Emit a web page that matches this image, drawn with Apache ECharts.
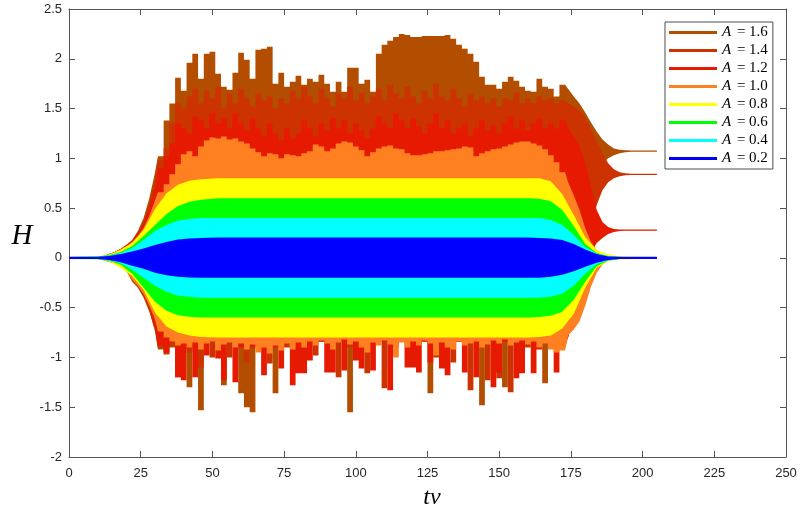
<!DOCTYPE html>
<html><head><meta charset="utf-8">
<script src="https://cdn.jsdelivr.net/npm/echarts/dist/echarts.min.js"></script>
<style>html,body{margin:0;padding:0;background:#fff}#c{width:800px;height:513px}</style>
</head><body><div id="c"></div>
<script>
// ---- sample times ----
const T_SMOOTH = [0, 10, 14, 18, 22, 26, 30, 34, 38, 42, 46, 52, 160, 164, 168, 172, 176, 180, 184, 188, 192, 198, 205];
const T_SPIKY = [12,14,16,18,20,22,24,26,28,30, 32,34,36,38,40,42,44,46,48,50, 52,54,56,58,60,62,64,66,68,70,
  72,74,76,78,80,82,84,86,88,90, 92,94,96,98,100,102,104,106,108,110, 112,114,116,118,120,122,124,126,128,130,
  132,134,136,138,140,142,144,146,148,150, 152,154,156,158,160,162,164,166,168,170, 172,174,176,178,180,182,184,186,188,190,
  192,194,196,198,200,202,204];

// ---- envelopes of H (upper / lower) ----
const A02_hi = [0.012,0.012,0.02,0.04,0.065,0.095,0.13,0.16,0.185,0.195,0.2,0.205, 0.205,0.2,0.195,0.18,0.14,0.085,0.04,0.015,0.012,0.012,0.012];
const A02_lo = [-0.012,-0.012,-0.02,-0.045,-0.08,-0.11,-0.15,-0.175,-0.19,-0.197,-0.2,-0.2, -0.2,-0.2,-0.19,-0.17,-0.135,-0.09,-0.05,-0.02,-0.012,-0.012,-0.012];
const A04_hi = [0.01,0.012,0.025,0.05,0.1,0.18,0.27,0.33,0.375,0.39,0.4,0.4, 0.4,0.4,0.38,0.33,0.23,0.11,0.045,0.02,0.01,0.01,0.01];
const A04_lo = [-0.01,-0.012,-0.025,-0.055,-0.12,-0.2,-0.28,-0.34,-0.38,-0.39,-0.4,-0.4, -0.4,-0.4,-0.39,-0.36,-0.28,-0.16,-0.065,-0.025,-0.01,-0.01,-0.01];
const A06_hi = [0.01,0.013,0.03,0.06,0.12,0.22,0.33,0.44,0.52,0.565,0.585,0.6, 0.6,0.595,0.57,0.48,0.32,0.14,0.05,0.02,0.01,0.01,0.01];
const A06_lo = [-0.01,-0.013,-0.03,-0.07,-0.16,-0.3,-0.44,-0.53,-0.575,-0.59,-0.6,-0.6, -0.6,-0.595,-0.58,-0.54,-0.42,-0.24,-0.085,-0.025,-0.01,-0.01,-0.01];
const A08_hi = [0.01,0.014,0.035,0.08,0.15,0.28,0.49,0.65,0.735,0.775,0.79,0.8, 0.8,0.8,0.77,0.64,0.43,0.21,0.08,0.035,0.015,0.01,0.01];
const A08_lo = [-0.01,-0.014,-0.04,-0.1,-0.18,-0.32,-0.55,-0.69,-0.75,-0.78,-0.795,-0.8, -0.8,-0.795,-0.78,-0.71,-0.56,-0.3,-0.1,-0.035,-0.015,-0.01,-0.01];

const A10_hi = [0.02,0.04,0.06,0.09,0.12,0.16,0.22,0.3,0.42,0.58,
  0.66,0.74,0.84,0.94,1.04,1.07,1.02,1.12,1.18,1.21,
  1.2,1.22,1.19,1.2,1.17,1.15,1.1,1.06,1.02,1.05,
  1.04,1.0,1.04,1.03,1.02,1.05,1.07,1.14,1.12,1.07,
  1.1,1.15,1.17,1.16,1.12,1.08,1.02,1.06,1.1,1.12,
  1.13,1.1,1.09,1.05,1.03,1.03,1.04,1.05,1.07,1.07,
  1.08,1.09,1.1,1.12,1.11,1.02,1.05,1.07,1.09,1.1,
  1.12,1.14,1.16,1.17,1.17,1.15,1.13,1.09,1.03,0.96,
  0.86,0.76,0.63,0.48,0.3,0.16,0.08,0.04,0.02,0.015,
  0.012,0.01,0.01,0.01,0.01,0.01,0.01];
const A10_lo = [-0.02,-0.04,-0.06,-0.09,-0.13,-0.22,-0.28,-0.36,-0.48,-0.62,
  -0.74,-0.8,-0.84,-0.88,-0.86,-0.9,-0.85,-0.92,-0.86,-0.84,
  -0.93,-0.87,-0.85,-0.9,-0.86,-0.92,-0.87,-0.95,-0.9,-0.96,
  -0.88,-0.93,-0.86,-0.92,-0.85,-0.9,-0.84,-0.88,-0.83,-0.86,
  -0.92,-0.85,-0.82,-0.87,-0.84,-0.9,-0.95,-0.85,-0.88,-0.83,
  -0.87,-1.0,-0.85,-0.9,-0.84,-0.88,-0.83,-0.86,-0.98,-0.85,
  -0.9,-0.92,-0.84,-0.88,-0.86,-0.84,-0.9,-0.87,-0.83,-0.86,
  -0.82,-0.88,-0.85,-0.83,-0.87,-0.84,-0.9,-0.86,-0.92,-0.95,
  -0.93,-0.78,-0.72,-0.64,-0.48,-0.29,-0.15,-0.07,-0.03,-0.015,
  -0.012,-0.01,-0.01,-0.01,-0.01,-0.01,-0.01];

const A12_hi = [0.02,0.04,0.06,0.09,0.13,0.17,0.24,0.34,0.5,0.7,
  0.9,1.02,1.15,1.35,1.3,1.25,1.42,1.38,1.3,1.45,
  1.35,1.4,1.3,1.45,1.35,1.28,1.4,1.3,1.22,1.35,
  1.25,1.18,1.3,1.2,1.25,1.38,1.3,1.22,1.35,1.28,
  1.4,1.3,1.38,1.25,1.35,1.28,1.2,1.3,1.42,1.35,
  1.3,1.45,1.38,1.3,1.4,1.32,1.25,1.35,1.45,1.3,
  1.38,1.25,1.3,1.35,1.22,1.3,1.38,1.28,1.33,1.25,
  1.35,1.42,1.3,1.38,1.28,1.35,1.4,1.3,1.35,1.3,
  1.38,1.3,1.22,1.12,0.95,0.72,0.48,0.36,0.31,0.29,
  0.285,0.285,0.285,0.285,0.285,0.285,0.285];
const A12_lo = [-0.02,-0.04,-0.06,-0.09,-0.13,-0.2,-0.26,-0.36,-0.5,-0.7,
  -0.88,-0.95,-0.85,-1.2,-1.23,-0.9,-1.2,-0.84,-0.98,-0.84,
  -1.01,-1.23,-0.84,-1.25,-0.9,-0.84,-0.9,-0.84,-1.18,-0.84,
  -0.9,-1.11,-0.84,-1.28,-1.16,-1.16,-1.03,-0.84,-0.84,-1.15,
  -1.15,-0.84,-1.13,-0.84,-1.03,-1.11,-0.84,-1.13,-0.84,-0.84,
  -1.33,-0.84,-0.84,-1.1,-1.1,-1.15,-0.84,-1.05,-0.84,-1.11,
  -1.18,-0.84,-0.84,-1.15,-0.84,-1.2,-0.84,-0.84,-1.3,-1.15,
  -0.84,-0.84,-1.21,-1.16,-0.84,-1.16,-0.92,-0.84,-0.84,-1.15,
  -0.84,-0.8,-0.6,-0.45,-0.2,0.05,0.15,0.2,0.24,0.26,
  0.27,0.272,0.272,0.272,0.272,0.272,0.272];

const A14_hi = [0.02,0.04,0.06,0.09,0.13,0.17,0.25,0.37,0.56,0.78,
  0.98,1.1,1.35,1.55,1.5,1.62,1.7,1.55,1.68,1.6,
  1.72,1.5,1.65,1.55,1.7,1.6,1.52,1.65,1.58,1.62,
  1.5,1.6,1.55,1.68,1.6,1.72,1.62,1.55,1.7,1.6,
  1.52,1.65,1.6,1.72,1.58,1.66,1.55,1.62,1.7,1.58,
  1.74,1.65,1.6,1.72,1.62,1.55,1.68,1.6,1.75,1.62,
  1.58,1.7,1.6,1.52,1.65,1.58,1.62,1.55,1.6,1.52,
  1.6,1.58,1.66,1.55,1.6,1.55,1.62,1.58,1.6,1.55,
  1.58,1.55,1.52,1.48,1.4,1.29,1.17,1.05,0.95,0.89,
  0.86,0.85,0.845,0.845,0.845,0.845,0.845];
const A14_lo = [-0.02,-0.04,-0.06,-0.09,-0.13,-0.21,-0.28,-0.38,-0.52,-0.72,
  -0.9,-0.96,-0.88,-0.84,-0.9,-0.95,-0.84,-1.1,-0.84,-1.0,
  -0.84,-0.84,-1.0,-0.84,-0.84,-1.05,-0.84,-0.9,-0.84,-1.06,
  -0.84,-0.84,-0.9,-0.84,-0.84,-0.9,-0.84,-0.98,-0.84,-0.84,
  -0.84,-1.2,-0.84,-0.9,-0.84,-0.84,-1.16,-0.84,-0.84,-1.31,
  -0.84,-0.9,-0.84,-0.84,-0.9,-0.84,-0.84,-0.84,-1.0,-0.84,
  -0.84,-1.05,-0.84,-0.84,-1.33,-0.84,-0.84,-1.23,-0.84,-1.21,
  -0.84,-1.35,-0.84,-0.84,-0.9,-0.84,-0.84,-0.84,-0.9,-0.84,
  -0.9,-0.8,-0.6,-0.4,-0.1,0.3,0.53,0.68,0.76,0.8,
  0.82,0.83,0.832,0.832,0.832,0.832,0.832];

const A16_hi = [0.02,0.04,0.06,0.09,0.13,0.18,0.27,0.4,0.6,0.86,
  1.02,1.38,1.55,1.81,1.68,1.96,2.05,1.8,2.05,2.07,
  1.85,1.72,1.69,1.86,2.06,1.99,1.8,2.09,2.1,2.12,
  1.75,1.86,1.72,1.77,1.83,1.74,1.8,1.77,1.84,1.75,
  1.67,1.77,1.67,1.91,1.91,1.75,1.79,1.67,2.05,2.14,
  2.18,2.22,2.25,2.24,2.22,2.22,2.23,2.23,2.23,2.23,
  2.24,2.2,2.14,2.1,2.05,1.97,1.82,1.74,1.74,1.7,
  1.77,1.82,1.78,1.72,1.68,1.67,1.8,1.72,1.7,1.62,
  1.74,1.7,1.62,1.55,1.46,1.36,1.27,1.19,1.14,1.1,
  1.085,1.08,1.078,1.078,1.078,1.078,1.078];
const A16_lo = [-0.02,-0.04,-0.06,-0.09,-0.13,-0.24,-0.3,-0.4,-0.54,-0.74,
  -0.92,-0.97,-0.9,-1.2,-0.84,-1.3,-0.84,-1.53,-0.84,-0.84,
  -0.84,-1.28,-0.84,-0.84,-1.36,-1.5,-1.55,-0.84,-0.84,-0.84,
  -1.36,-0.84,-0.84,-0.84,-0.84,-0.84,-0.84,-0.84,-0.84,-0.84,
  -0.84,-0.84,-0.84,-1.55,-0.84,-0.84,-0.84,-0.84,-0.84,-0.84,
  -0.84,-0.84,-0.84,-0.84,-0.84,-0.84,-0.84,-1.36,-0.84,-0.84,
  -0.84,-0.84,-0.84,-0.84,-0.84,-0.84,-1.48,-0.84,-0.84,-0.84,
  -1.3,-0.84,-0.84,-0.84,-0.84,-0.84,-0.84,-1.26,-0.84,-0.84,
  -0.84,-0.8,-0.6,-0.3,0.1,0.5,0.8,0.95,1.0,1.03,
  1.05,1.06,1.065,1.065,1.065,1.065,1.065];

// ---- series definitions (back to front) ----
const SERIES = [
  {name:'A = 1.6', color:'#B34D00', t:T_SPIKY, hi:A16_hi, lo:A16_lo, step:true},
  {name:'A = 1.4', color:'#CC3300', t:T_SPIKY, hi:A14_hi, lo:A14_lo, step:true},
  {name:'A = 1.2', color:'#E61A00', t:T_SPIKY, hi:A12_hi, lo:A12_lo, step:true},
  {name:'A = 1.0', color:'#FF8020', t:T_SPIKY, hi:A10_hi, lo:A10_lo, step:true},
  {name:'A = 0.8', color:'#FFFF00', t:T_SMOOTH, hi:A08_hi, lo:A08_lo, step:false},
  {name:'A = 0.6', color:'#00FF00', t:T_SMOOTH, hi:A06_hi, lo:A06_lo, step:false},
  {name:'A = 0.4', color:'#00FFFF', t:T_SMOOTH, hi:A04_hi, lo:A04_lo, step:false},
  {name:'A = 0.2', color:'#0000FF', t:T_SMOOTH, hi:A02_hi, lo:A02_lo, step:false}
];
// stepped (oscillating) drawing only inside this time window; smooth outside
const STEP_FROM = 32, STEP_TO = 174;

function makeSeries(s) {
  return {
    type:'custom', name:s.name, xAxisIndex:0, yAxisIndex:0,
    data:[[s.t[0], s.hi[0]]], silent:true, animation:false,
    itemStyle:{color:s.color},
    renderItem:function(params, api){
      const pts = [];
      const n = s.t.length;
      if (s.step) {
        const h = (s.t[1]-s.t[0])/2;
        const isStep = t => t >= STEP_FROM && t < STEP_TO;
        for (let i=0;i<n;i++){
          const t = s.t[i];
          if (isStep(t)) { pts.push(api.coord([t-h, s.hi[i]])); pts.push(api.coord([t+h, s.hi[i]])); }
          else pts.push(api.coord([t, s.hi[i]]));
        }
        pts.push(api.coord([s.t[n-1]+h, s.hi[n-1]]));
        pts.push(api.coord([s.t[n-1]+h, s.lo[n-1]]));
        for (let i=n-1;i>=0;i--){
          const t = s.t[i];
          if (isStep(t)) { pts.push(api.coord([t+h, s.lo[i]])); pts.push(api.coord([t-h, s.lo[i]])); }
          else pts.push(api.coord([t, s.lo[i]]));
        }
      } else {
        for (let i=0;i<n;i++) pts.push(api.coord([s.t[i], s.hi[i]]));
        for (let i=n-1;i>=0;i--) pts.push(api.coord([s.t[i], s.lo[i]]));
      }
      return {type:'polygon', shape:{points:pts}, style:{fill:s.color, stroke:null}};
    }
  };
}

const AXC = '#555555';
const LBL = {color:'#262626', fontSize:13, fontFamily:'Liberation Sans, Arial, sans-serif'};
const chart = echarts.init(document.getElementById('c'), null, {renderer:'canvas'});
chart.setOption({
  animation:false,
  backgroundColor:'#ffffff',
  grid:{left:69, right:14, top:9, bottom:56, containLabel:false},
  xAxis:[
    {type:'value', min:0, max:250, interval:25, position:'bottom',
     axisLine:{show:true, onZero:false, lineStyle:{color:AXC, width:1}},
     axisTick:{show:true, inside:true, length:6, lineStyle:{color:AXC}},
     axisLabel:Object.assign({margin:10}, LBL), splitLine:{show:false}},
    {type:'value', min:0, max:250, interval:25, position:'top',
     axisLine:{show:true, onZero:false, lineStyle:{color:AXC, width:1}},
     axisTick:{show:true, inside:true, length:6, lineStyle:{color:AXC}},
     axisLabel:{show:false}, splitLine:{show:false}}
  ],
  yAxis:[
    {type:'value', min:-2, max:2.5, interval:0.5, position:'left',
     axisLine:{show:true, onZero:false, lineStyle:{color:AXC, width:1}},
     axisTick:{show:true, inside:true, length:6, lineStyle:{color:AXC}},
     axisLabel:Object.assign({margin:7}, LBL), splitLine:{show:false}},
    {type:'value', min:-2, max:2.5, interval:0.5, position:'right',
     axisLine:{show:true, onZero:false, lineStyle:{color:AXC, width:1}},
     axisTick:{show:true, inside:true, length:6, lineStyle:{color:AXC}},
     axisLabel:{show:false}, splitLine:{show:false}}
  ],
  legend:{
    orient:'vertical', left:665, top:22, padding:[3,5,3,4],
    itemWidth:48, itemHeight:3, itemGap:3, icon:'rect', selectedMode:false,
    borderColor:'#4d4d4d', borderWidth:1, backgroundColor:'#ffffff',
    data:SERIES.map(s=>({name:s.name, icon:'rect', itemStyle:{color:s.color}})),
    formatter:function(name){ return '{a|A}{b|' + name.slice(1) + '}'; },
    textStyle:{
      rich:{
        a:{fontFamily:'Liberation Serif, serif', fontStyle:'italic', fontSize:15, lineHeight:14, color:'#000', padding:[0,2,0,0]},
        b:{fontFamily:'Liberation Serif, serif', fontSize:15, lineHeight:14, color:'#000'}
      }
    }
  },
  graphic:[
    {type:'text', x:22, y:236, style:{text:'H', font:'italic 29px "Liberation Serif", serif', fill:'#000', align:'center', verticalAlign:'middle'}},
    {type:'text', x:432, y:498, style:{text:'t\u03BD', font:'italic 24px "Liberation Serif", serif', fill:'#000', align:'center', verticalAlign:'middle'}}
  ],
  series:SERIES.map(makeSeries)
});
</script></body></html>
